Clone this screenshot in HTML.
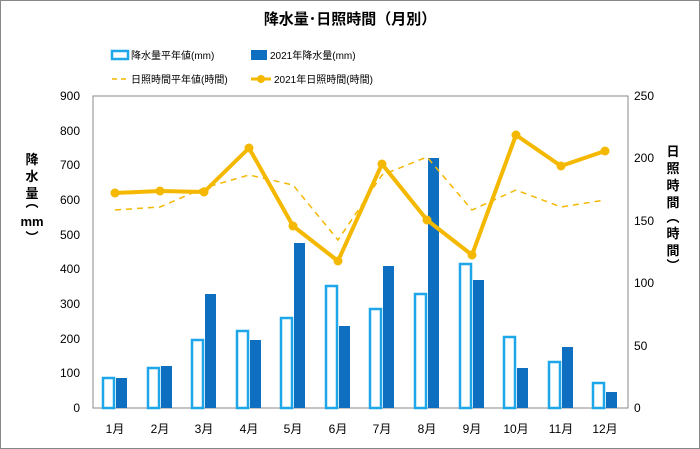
<!DOCTYPE html>
<html><head><meta charset="utf-8"><style>
body{margin:0;background:#fff}
svg{display:block;font-family:"Liberation Sans","Noto Sans CJK JP",sans-serif}
</style></head><body>
<svg width="700" height="449" viewBox="0 0 700 449">
<rect x="0.5" y="0.5" width="699" height="448" fill="#fff" stroke="#888"/>
<text x="350" y="24" text-anchor="middle" font-size="15" font-weight="bold" fill="#000">降水量･日照時間（月別）</text>
<rect x="112" y="51" width="16" height="8" fill="#fff" stroke="#1ea7e8" stroke-width="2.5"/>
<text x="131" y="59" font-size="10">降水量平年値(mm)</text>
<rect x="251" y="50" width="16" height="10" fill="#0e6fc0"/>
<text x="270" y="59" font-size="10">2021年降水量(mm)</text>
<line x1="112" y1="79" x2="128" y2="79" stroke="#f5b800" stroke-width="1.5" stroke-dasharray="5,4"/>
<text x="131" y="83" font-size="10">日照時間平年値(時間)</text>
<line x1="251" y1="79" x2="271" y2="79" stroke="#f5b800" stroke-width="3"/>
<circle cx="261" cy="79" r="4" fill="#f5b800"/>
<text x="274" y="83" font-size="10">2021年日照時間(時間)</text>
<rect x="93" y="96" width="535" height="312" fill="#fff" stroke="#888"/>
<g font-size="12" text-anchor="end" fill="#000">
<text x="80" y="412">0</text><text x="80" y="377">100</text><text x="80" y="343">200</text><text x="80" y="308">300</text><text x="80" y="273">400</text><text x="80" y="239">500</text><text x="80" y="204">600</text><text x="80" y="169">700</text><text x="80" y="135">800</text><text x="80" y="100">900</text>
</g>
<g font-size="12" text-anchor="start" fill="#000">
<text x="634" y="412">0</text><text x="634" y="350">50</text><text x="634" y="287">100</text><text x="634" y="225">150</text><text x="634" y="162">200</text><text x="634" y="100">250</text>
</g>
<g font-size="13" font-weight="bold" text-anchor="middle">
<text x="32" y="164">降</text><text x="32" y="181">水</text><text x="32" y="198">量</text><text x="32" y="207">︵</text><text x="32" y="226">mm</text><text x="32" y="242">︶</text>
<text x="673" y="156">日</text><text x="673" y="173">照</text><text x="673" y="190">時</text><text x="673" y="207">間</text><text x="673" y="222">︵</text><text x="673" y="238">時</text><text x="673" y="255">間</text><text x="673" y="270">︶</text>
</g>
<g font-size="12" text-anchor="middle">
<text x="115" y="433">1月</text><text x="160" y="433">2月</text><text x="204" y="433">3月</text><text x="249" y="433">4月</text><text x="293" y="433">5月</text><text x="338" y="433">6月</text><text x="382" y="433">7月</text><text x="427" y="433">8月</text><text x="472" y="433">9月</text><text x="516" y="433">10月</text><text x="561" y="433">11月</text><text x="605" y="433">12月</text>
</g>
<g fill="#fff" stroke="#1ea7e8" stroke-width="2.5">
<rect x="103" y="378" width="11" height="30"/>
<rect x="148" y="368" width="11" height="40"/>
<rect x="192" y="340" width="11" height="68"/>
<rect x="237" y="331" width="11" height="77"/>
<rect x="281" y="318" width="11" height="90"/>
<rect x="326" y="286" width="11" height="122"/>
<rect x="370" y="309" width="11" height="99"/>
<rect x="415" y="294" width="11" height="114"/>
<rect x="460" y="264" width="11" height="144"/>
<rect x="504" y="337" width="11" height="71"/>
<rect x="549" y="362" width="11" height="46"/>
<rect x="593" y="383" width="11" height="25"/>
</g>
<g fill="#0e6fc0">
<rect x="116" y="378" width="11" height="30"/>
<rect x="161" y="366" width="11" height="42"/>
<rect x="205" y="294" width="11" height="114"/>
<rect x="250" y="340" width="11" height="68"/>
<rect x="294" y="243" width="11" height="165"/>
<rect x="339" y="326" width="11" height="82"/>
<rect x="383" y="266" width="11" height="142"/>
<rect x="428" y="158" width="11" height="250"/>
<rect x="473" y="280" width="11" height="128"/>
<rect x="517" y="368" width="11" height="40"/>
<rect x="562" y="347" width="11" height="61"/>
<rect x="606" y="392" width="11" height="16"/>
</g>
<polyline fill="none" stroke="#f5b800" stroke-width="1.5" stroke-dasharray="6,5" points="115,210 160,207 204,188 249,175 293,185 338,240 382,175 427,157 472,210 516,190 561,207 605,200"/>
<polyline fill="none" stroke="#f5b800" stroke-width="4" stroke-linejoin="round" points="115,193 160,191 204,192 249,148 293,226 338,261 382,164 427,220 472,255 516,135 561,166 605,151"/>
<g fill="#f5b800">
<circle cx="115" cy="193" r="4.5"/><circle cx="160" cy="191" r="4.5"/><circle cx="204" cy="192" r="4.5"/><circle cx="249" cy="148" r="4.5"/><circle cx="293" cy="226" r="4.5"/><circle cx="338" cy="261" r="4.5"/><circle cx="382" cy="164" r="4.5"/><circle cx="427" cy="220" r="4.5"/><circle cx="472" cy="255" r="4.5"/><circle cx="516" cy="135" r="4.5"/><circle cx="561" cy="166" r="4.5"/><circle cx="605" cy="151" r="4.5"/>
</g>
</svg>
</body></html>
